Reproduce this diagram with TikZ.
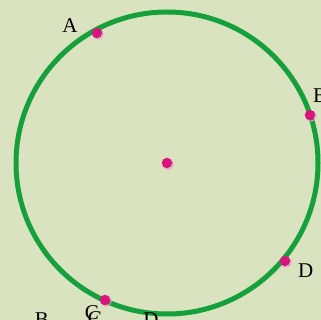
\documentclass[tikz,border=0pt]{standalone}
\usepackage{fontspec}
\setmainfont{Liberation Serif}
\definecolor{bg}{HTML}{D9E3C0}
\definecolor{ring}{HTML}{16A03C}
\definecolor{pt}{HTML}{D8157F}
\begin{document}
\begin{tikzpicture}[x=1pt,y=-1pt,
  dotc/.style={circle,fill=pt,inner sep=0pt,minimum size=10.5pt},
  lbl/.style={font=\fontsize{21}{21}\selectfont,inner sep=0pt,text=black}]
\fill[bg] (0,0) rectangle (321,320);
\useasboundingbox (0,0) rectangle (321,320);
\draw[ring,line width=5pt] (167,163) circle (151);
\foreach \n/\x/\y in {A/97/33,B/310/115,C/105/300,D/285/261,O/167/163}{
  \draw[white!55!pt,line width=0.9pt] (\x+1.2,\y+1.2) circle (5);
  \node[dotc] (\n) at (\x,\y) {};
}
\node[lbl,anchor=base] (la) at (70,33) {A};
\node[lbl,anchor=base west] (lb) at (313,103) {B};
\node[lbl,anchor=base] (lc) at (92,319) {C};
\node[lbl,anchor=base west] (ld) at (298,277) {D};
\node[lbl,anchor=base] (b2) at (42,326) {B};
\node[lbl,anchor=base] (c2) at (95,325) {C};
\node[lbl,anchor=base] (d2) at (151,326) {D};
\end{tikzpicture}
\end{document}
